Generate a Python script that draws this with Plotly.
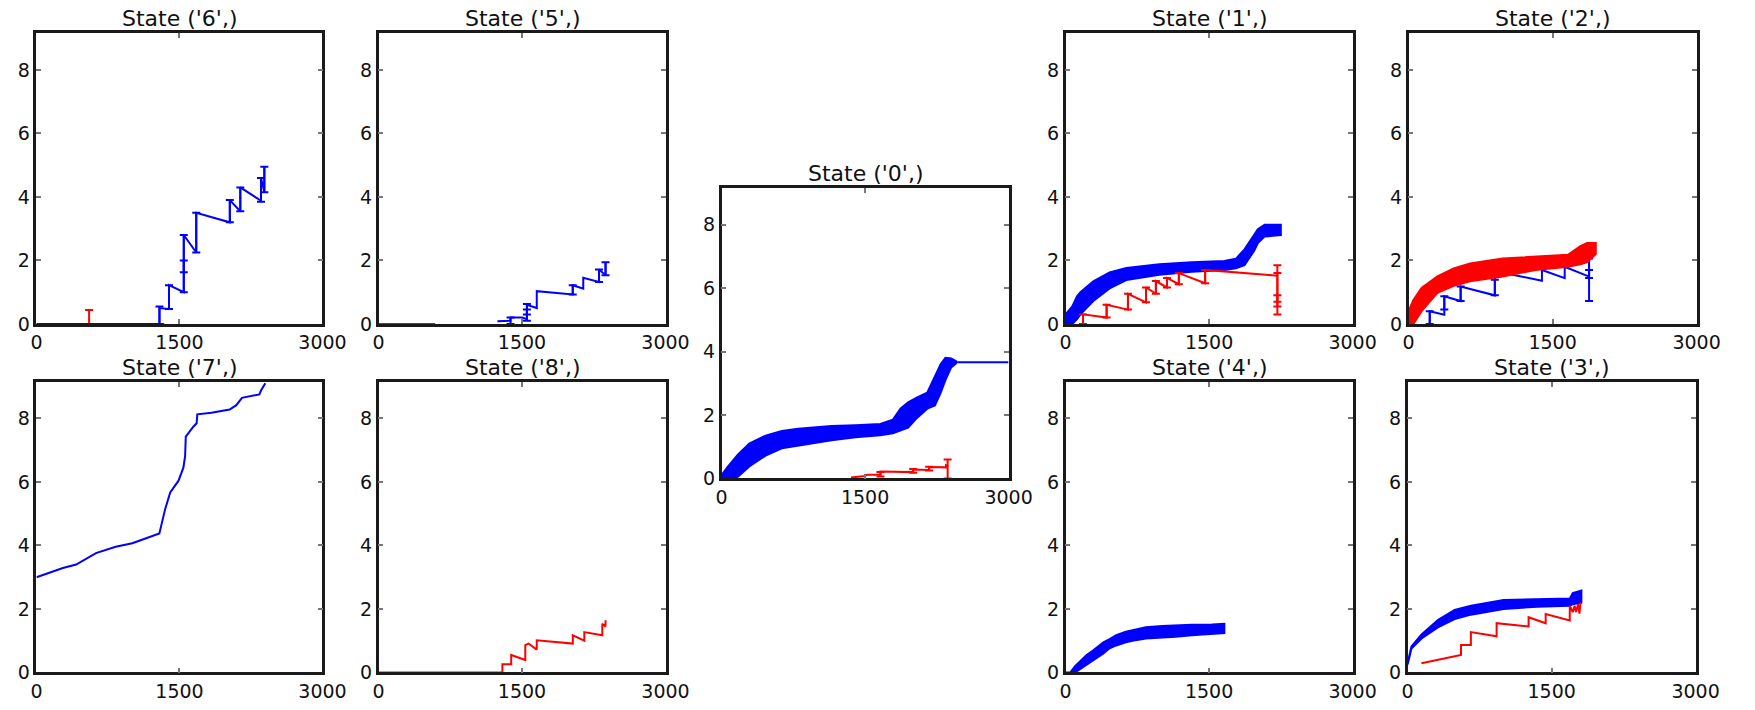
import plotly.graph_objects as go

BLUE = "#0000ff"
RED = "#ff0000"
X_RANGE = [0, 3000]
Y_RANGE = [0, 9.15]
X_TICKS = [0, 1500, 3000]
Y_TICKS = [0, 2, 4, 6, 8]

# ---------------- State ('6',) ----------------
s6_blue_x = [0, 1290, 1290, 1390, 1390, 1545, 1545, 1676, 1676, 2028, 2028, 2138, 2138, 2355, 2355, 2390, 2390]
s6_blue_y = [0, 0, 0.5, 0.47, 1.22, 1.0, 2.8, 2.25, 3.5, 3.2, 3.9, 3.55, 4.3, 3.88, 4.6, 4.15, 4.95]
s6_blue_bar_x = [1290, 1390, 1545, 1545, 1676, 2028, 2138, 2355, 2390]
s6_blue_bar_lo = [0, 0.47, 1.0, 1.63, 2.25, 3.2, 3.55, 3.85, 4.15]
s6_blue_bar_hi = [0.55, 1.22, 2.0, 2.8, 3.5, 3.9, 4.3, 4.6, 4.95]
s6_red_x = [0, 1340]
s6_red_y = [0, 0]
s6_red_bar_x = [552]
s6_red_bar_lo = [0]
s6_red_bar_hi = [0.44]

# ---------------- State ('5',) ----------------
s5_blue_x = [1243, 1380, 1380, 1500, 1551, 1551, 1654, 1654, 2030, 2030, 2140, 2140, 2305, 2305, 2373, 2373]
s5_blue_y = [0.08, 0.1, 0.2, 0.2, 0.15, 0.6, 0.5, 1.03, 0.93, 1.22, 1.11, 1.45, 1.32, 1.71, 1.53, 1.94]
s5_blue_bar_x = [1380, 1551, 1551, 2030, 2305, 2373]
s5_blue_bar_lo = [0.0, 0.1, 0.3, 0.93, 1.32, 1.53]
s5_blue_bar_hi = [0.2, 0.45, 0.63, 1.22, 1.71, 1.94]
s5_red_x = [0, 592]
s5_red_y = [0, 0]

# ---------------- State ('0',) ----------------
s0_band_x = [0, 60, 170, 290, 460, 630, 800, 980, 1150, 1400, 1660, 1790, 1870, 1950, 2040, 2150, 2230, 2290, 2340, 2400, 2450]
s0_band_hi = [0.1, 0.35, 0.75, 1.1, 1.35, 1.5, 1.57, 1.62, 1.65, 1.68, 1.72, 1.85, 2.2, 2.4, 2.55, 2.7, 3.2, 3.6, 3.8, 3.78, 3.7]
s0_band_lo = [0, 0, 0.05, 0.38, 0.72, 0.95, 1.05, 1.12, 1.2, 1.3, 1.36, 1.42, 1.5, 1.6, 1.9, 2.2, 2.3, 2.7, 3.1, 3.5, 3.62]
s0_tail_x = [2450, 3000]
s0_tail_y = [3.66, 3.66]
s0_red_x = [1353, 1500, 1520, 1661, 1661, 2003, 2003, 2170, 2170, 2346, 2346, 2370]
s0_red_y = [0.03, 0.08, 0.12, 0.12, 0.22, 0.2, 0.28, 0.27, 0.36, 0.35, 0.42, 0.38]
s0_red_bar_x = [1661, 2003, 2170, 2363]
s0_red_bar_lo = [0.06, 0.18, 0.25, 0.0]
s0_red_bar_hi = [0.2, 0.3, 0.37, 0.6]

# ---------------- State ('1',) ----------------
s1_band_x = [0, 70, 120, 155, 290, 460, 635, 980, 1320, 1660, 1780, 1870, 1970, 2010, 2080, 2250]
s1_band_hi = [0.3, 0.55, 0.87, 1.0, 1.34, 1.62, 1.76, 1.88, 1.94, 1.98, 2.05, 2.35, 2.8, 2.98, 3.12, 3.12]
s1_band_lo = [0, 0, 0.15, 0.3, 0.72, 1.12, 1.38, 1.55, 1.64, 1.7, 1.75, 1.85, 2.3, 2.55, 2.75, 2.8]
s1_red_x = [182, 182, 429, 429, 652, 652, 841, 841, 944, 944, 1060, 1060, 1184, 1184, 1459, 1459, 2214]
s1_red_y = [0, 0.3, 0.2, 0.6, 0.45, 0.95, 0.68, 1.15, 0.95, 1.35, 1.15, 1.45, 1.25, 1.6, 1.28, 1.7, 1.52]
s1_red_bar_x = [182, 429, 652, 841, 944, 1060, 1184, 1459, 2214, 2214, 2214]
s1_red_bar_lo = [0, 0.2, 0.45, 0.68, 0.95, 1.15, 1.25, 1.28, 0.3, 0.55, 0.7]
s1_red_bar_hi = [0.3, 0.6, 0.95, 1.15, 1.35, 1.45, 1.6, 1.7, 1.85, 0.9, 1.6]

# ---------------- State ('2',) ----------------
s2_band_x = [0, 50, 135, 300, 470, 640, 980, 1320, 1660, 1790, 1860, 1950]
s2_band_hi = [0.4, 0.75, 1.13, 1.5, 1.75, 1.9, 2.06, 2.13, 2.18, 2.45, 2.55, 2.55]
s2_band_lo = [0, 0, 0.4, 0.98, 1.2, 1.34, 1.49, 1.7, 1.8, 1.88, 1.95, 2.2]
s2_blue_x = [220, 220, 372, 372, 542, 542, 898, 898, 915, 1389, 1389, 1626, 1626, 1880, 1880]
s2_blue_y = [0, 0.4, 0.29, 0.87, 0.72, 1.18, 0.9, 1.39, 1.65, 1.36, 1.7, 1.44, 1.8, 1.49, 2.0]
s2_blue_bar_x = [220, 372, 542, 898, 1880, 1880]
s2_blue_bar_lo = [0, 0.45, 0.72, 0.9, 0.72, 1.45]
s2_blue_bar_hi = [0.4, 0.87, 1.18, 1.39, 2.06, 1.7]

# ---------------- State ('7',) ----------------
s7_blue_x = [0, 139, 277, 416, 624, 831, 1005, 1143, 1289, 1351, 1403, 1490, 1541, 1559, 1566, 1645, 1680, 1687, 1836, 2026, 2096, 2155, 2338, 2355, 2400]
s7_blue_y = [3.0, 3.14, 3.29, 3.4, 3.76, 3.96, 4.07, 4.22, 4.38, 5.16, 5.67, 6.04, 6.45, 6.81, 7.43, 7.74, 7.85, 8.13, 8.18, 8.28, 8.42, 8.65, 8.76, 8.88, 9.11]

# ---------------- State ('8',) ----------------
s8_red_x = [0, 1295, 1295, 1387, 1387, 1534, 1534, 1568, 1654, 1654, 2031, 2031, 2151, 2151, 2339, 2339, 2373, 2373]
s8_red_y = [0, 0, 0.26, 0.26, 0.55, 0.39, 0.86, 0.91, 0.72, 1.01, 0.91, 1.17, 1.0, 1.27, 1.17, 1.53, 1.45, 1.64]

# ---------------- State ('4',) ----------------
s4_band_x = [0, 50, 100, 220, 290, 395, 460, 530, 630, 700, 840, 1010, 1150, 1320, 1530, 1660]
s4_band_hi = [0, 0, 0.2, 0.55, 0.7, 0.95, 1.05, 1.17, 1.28, 1.33, 1.42, 1.46, 1.48, 1.5, 1.51, 1.53]
s4_band_lo = [0, 0, 0, 0.25, 0.39, 0.6, 0.76, 0.85, 0.95, 1.0, 1.07, 1.1, 1.12, 1.17, 1.22, 1.24]

# ---------------- State ('3',) ----------------
s3_band_x = [0, 40, 145, 315, 490, 660, 1000, 1350, 1690, 1720, 1810]
s3_band_hi = [0.3, 0.82, 1.2, 1.65, 1.97, 2.1, 2.28, 2.3, 2.33, 2.5, 2.58]
s3_band_lo = [0.25, 0.75, 1.07, 1.42, 1.68, 1.82, 2.0, 2.07, 2.1, 2.15, 2.2]
s3_red_x = [144, 556, 556, 659, 659, 927, 927, 1260, 1260, 1438, 1438, 1689, 1689, 1720, 1740, 1755, 1775, 1790, 1802]
s3_red_y = [0.29, 0.55, 0.86, 0.86, 1.27, 1.14, 1.55, 1.45, 1.74, 1.55, 1.84, 1.64, 2.1, 1.9, 2.1, 1.9, 2.15, 1.85, 2.2]

TITLES = ["State ('6',)", "State ('5',)", "State ('0',)", "State ('1',)", "State ('2',)",
          "State ('7',)", "State ('8',)", "State ('4',)", "State ('3',)"]

W, H = 1755, 710
# panel pixel boxes: (left, right, top, bottom)
BOXES = [(31, 322, 34, 329), (379, 671, 34, 329), (728, 1020, 191, 486), (1078, 1370, 34, 329),
         (1427, 1720, 34, 329), (31, 322, 388, 683), (379, 671, 388, 683), (1078, 1370, 388, 683),
         (1426, 1719, 388, 683)]

fig = go.Figure()


def ax(i):
    return ("x" if i == 1 else f"x{i}"), ("y" if i == 1 else f"y{i}")


def line(i, x, y, color):
    xa, ya = ax(i)
    fig.add_trace(go.Scatter(x=x, y=y, mode="lines", line=dict(color=color, width=2),
                             xaxis=xa, yaxis=ya, hoverinfo="skip"))


def bars(i, x, lo, hi, color):
    xa, ya = ax(i)
    c = [(a + b) / 2 for a, b in zip(lo, hi)]
    e = [(b - a) / 2 for a, b in zip(lo, hi)]
    fig.add_trace(go.Scatter(x=x, y=c, mode="markers", marker=dict(size=1, color=color),
                             error_y=dict(type="data", array=e, color=color, thickness=2, width=4),
                             xaxis=xa, yaxis=ya, hoverinfo="skip"))


def band(i, x, lo, hi, color):
    xa, ya = ax(i)
    fig.add_trace(go.Scatter(x=list(x) + list(x)[::-1], y=list(hi) + list(lo)[::-1],
                             mode="lines", fill="toself", fillcolor=color,
                             line=dict(color=color, width=2), xaxis=xa, yaxis=ya, hoverinfo="skip"))


# State 6
line(1, s6_red_x, s6_red_y, RED)
bars(1, s6_red_bar_x, s6_red_bar_lo, s6_red_bar_hi, RED)
line(1, s6_blue_x, s6_blue_y, BLUE)
bars(1, s6_blue_bar_x, s6_blue_bar_lo, s6_blue_bar_hi, BLUE)
# State 5
line(2, s5_red_x, s5_red_y, RED)
line(2, s5_blue_x, s5_blue_y, BLUE)
bars(2, s5_blue_bar_x, s5_blue_bar_lo, s5_blue_bar_hi, BLUE)
# State 0
band(3, s0_band_x, s0_band_lo, s0_band_hi, BLUE)
line(3, s0_tail_x, s0_tail_y, BLUE)
line(3, s0_red_x, s0_red_y, RED)
bars(3, s0_red_bar_x, s0_red_bar_lo, s0_red_bar_hi, RED)
# State 1
band(4, s1_band_x, s1_band_lo, s1_band_hi, BLUE)
line(4, s1_red_x, s1_red_y, RED)
bars(4, s1_red_bar_x, s1_red_bar_lo, s1_red_bar_hi, RED)
# State 2
line(5, s2_blue_x, s2_blue_y, BLUE)
bars(5, s2_blue_bar_x, s2_blue_bar_lo, s2_blue_bar_hi, BLUE)
band(5, s2_band_x, s2_band_lo, s2_band_hi, RED)
# State 7
line(6, s7_blue_x, s7_blue_y, BLUE)
# State 8
line(7, s8_red_x, s8_red_y, RED)
# State 4
band(8, s4_band_x, s4_band_lo, s4_band_hi, BLUE)
# State 3
band(9, s3_band_x, s3_band_lo, s3_band_hi, BLUE)
line(9, s3_red_x, s3_red_y, RED)

layout = dict(width=W, height=H, margin=dict(l=0, r=0, t=0, b=0),
              paper_bgcolor="white", plot_bgcolor="white", showlegend=False,
              font=dict(family="DejaVu Sans", size=19, color="black"))
annotations = []
for i, (l, r, t, b) in enumerate(BOXES, 1):
    xd = [l / W, r / W]
    yd = [1 - b / H, 1 - t / H]
    xa, ya = ax(i)
    common = dict(showline=True, linecolor="#1a1a1a", linewidth=2.5, mirror="ticks",
                  ticks="inside", ticklen=5, tickwidth=1.5, tickcolor="#777",
                  showgrid=False, zeroline=False, fixedrange=True,
                  tickfont=dict(family="DejaVu Sans", size=19, color="#111"))
    layout["xaxis" + ("" if i == 1 else str(i))] = dict(domain=xd, range=X_RANGE, tickvals=X_TICKS,
                                                          tickformat="d", anchor=ya, **common)
    layout["yaxis" + ("" if i == 1 else str(i))] = dict(domain=yd, range=Y_RANGE, tickvals=Y_TICKS,
                                                          anchor=xa, **common)
    annotations.append(dict(text=TITLES[i - 1], xref="paper", yref="paper",
                            x=(xd[0] + xd[1]) / 2, y=yd[1], xanchor="center", yanchor="bottom",
                            yshift=0, showarrow=False,
                            font=dict(family="DejaVu Sans", size=22, color="#111")))
layout["annotations"] = annotations
fig.update_layout(**layout)
fig.write_html("out.html")
